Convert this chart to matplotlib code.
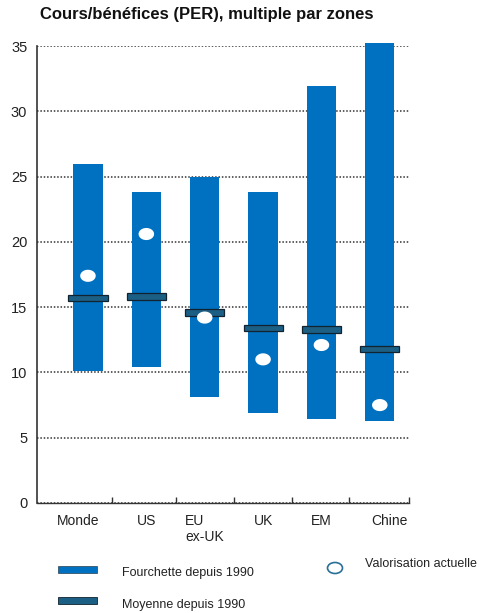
import numpy as np
import matplotlib
matplotlib.use('Agg')
import matplotlib.pyplot as plt
from matplotlib.path import Path
from matplotlib.patches import Rectangle, Ellipse

plt.rcParams['font.family'] = ['Liberation Sans', 'DejaVu Sans']

# data
zones = ['Monde', 'US', 'EU\nex-UK', 'UK', 'EM', 'Chine']
range_low = [10.1, 10.4, 8.1, 6.9, 6.4, 6.3]
range_high = [26.0, 23.8, 25.0, 23.8, 31.9, 35.2]
mean_1990 = [15.7, 15.8, 14.6, 13.4, 13.3, 11.8]
current_val = [17.4, 20.6, 14.2, 11.0, 12.1, 7.5]
yticks = [0, 5, 10, 15, 20, 25, 30, 35]

BLUE = '#0070c0'
DARK = '#1c5f85'

fig = plt.figure(figsize=(4.82, 6.13), dpi=100)
ax = fig.add_axes([37 / 482, 1 - 503 / 613, (409 - 37) / 482, (503 - 46) / 613])

x = np.arange(len(zones))
low = np.array(range_low)
high = np.array(range_high)
ax.bar(x, high - low, bottom=low, width=0.5, color=BLUE, zorder=2, clip_on=False)

mh = 0.5
ax.bar(x, mh, bottom=np.array(mean_1990) - mh / 2, width=0.67, color=DARK,
       edgecolor='#10232e', linewidth=0.9, zorder=3)

# slightly flattened circle marker
t = np.linspace(0, 2 * np.pi, 60)
ell = Path(np.column_stack([np.cos(t), 0.78 * np.sin(t)]), closed=True)
ax.scatter(x, current_val, marker=ell, s=125, color='white', edgecolor='none', zorder=4)

ax.set_xlim(-0.873, 5.497)
ax.set_ylim(0, 35)
ax.set_yticks(yticks)
ax.yaxis.grid(True, linestyle=(0, (1, 1.2)), color='#333333', linewidth=1.1)
ax.set_axisbelow(True)
ax.tick_params(axis='y', length=0, pad=7, labelsize=10.5, labelcolor='#222222')

# label positions nudged like the original (Monde left, Chine right)
ax.set_xticks(x + np.array([-0.17, 0, 0, 0, 0, 0.17]))
ax.set_xticklabels(zones, fontsize=10, multialignment='left', color='#222222')
ax.set_xticks([0.41, 1.5, 2.5, 3.5, 4.47, 5.5], minor=True)
ax.tick_params(axis='x', which='major', length=0, pad=8)
ax.tick_params(axis='x', which='minor', direction='in', length=4, color='#333333', width=1)

for s in ['top', 'right']:
    ax.spines[s].set_visible(False)
ax.spines['left'].set_color('#333333')
ax.spines['bottom'].set_color('#333333')
ax.spines['left'].set_linewidth(1.2)
ax.spines['bottom'].set_linewidth(1.0)

fig.text(40 / 482, 1 - 15 / 613, 'Cours/bénéfices (PER), multiple par zones',
         fontsize=12, fontweight='bold', va='center', ha='left', color='#111111')

# legend drawn by hand
W, H = 482, 613
fig.patches.append(Rectangle((58 / W, 1 - 573 / H), 39 / W, 7 / H, transform=fig.transFigure,
                             facecolor=BLUE, edgecolor='#10232e', linewidth=0.4))
fig.text(122 / W, 1 - 573 / H, 'Fourchette depuis 1990', fontsize=9, va='center', color='#222222')
fig.patches.append(Rectangle((58 / W, 1 - 604 / H), 39 / W, 7 / H, transform=fig.transFigure,
                             facecolor=DARK, edgecolor='#10232e', linewidth=0.6))
fig.text(122 / W, 1 - 605 / H, 'Moyenne depuis 1990', fontsize=9, va='center', color='#222222')
fig.patches.append(Ellipse((335 / W, 1 - 568 / H), 15 / W, 11 / H, transform=fig.transFigure,
                           facecolor='white', edgecolor='#2a6f96', linewidth=1.2))
fig.text(365 / W, 1 - 564 / H, 'Valorisation actuelle', fontsize=9, va='center', color='#222222')

fig.savefig('out.png', dpi=100)
